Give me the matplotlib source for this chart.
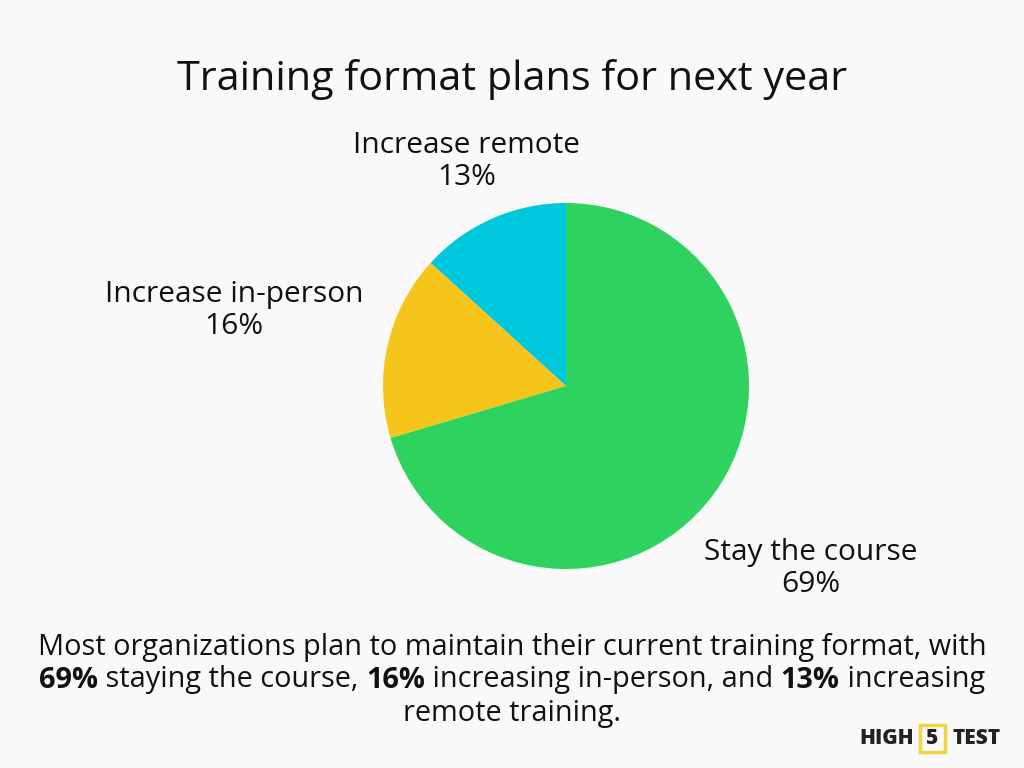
import numpy as np
import matplotlib.pyplot as plt
from matplotlib.patches import FancyBboxPatch

# data
categories = ["Increase remote", "Increase in-person", "Stay the course"]
shares = [13, 16, 69]
colors = ["#00c8dc", "#f5c51c", "#2ed35f"]
label_dist = [1.34, 1.86, 1.67]

title = "Training format plans for next year"
summary = [
    [("Most organizations plan to maintain their current training format, with", "normal")],
    [("69%", "bold"), (" staying the course, ", "normal"), ("16%", "bold"),
     (" increasing in-person, and ", "normal"), ("13%", "bold"), (" increasing", "normal")],
    [("remote training.", "normal")],
]

plt.rcParams['font.family'] = ['Open Sans', 'DejaVu Sans']
bg = "#f9f9f9"
fig = plt.figure(figsize=(10.24, 7.68), dpi=100, facecolor=bg)

fig.text(0.5, 1 - 80 / 768, title, ha="center", va="center", fontsize=29.8, color="#111111")

# pie: centre (566, 386) px, radius 183 px
cx, cy, r = 566 / 1024, 1 - 386 / 768, 183
ax = fig.add_axes([cx - r / 1024, cy - r / 768, 2 * r / 1024, 2 * r / 768])
wedges, _ = ax.pie(shares, colors=colors, startangle=90, counterclock=True,
                   wedgeprops=dict(edgecolor="none"))
ax.set_xlim(-1, 1)
ax.set_ylim(-1, 1)
ax.set_aspect("equal")
ax.axis("off")

for w, name, val, d in zip(wedges, categories, shares, label_dist):
    ang = np.deg2rad((w.theta1 + w.theta2) / 2)
    ax.text(d * np.cos(ang), d * np.sin(ang), f"{name}\n{val}%", ha="center", va="center",
            fontsize=21.5, color="#111111", linespacing=1.12)

# summary text with bold segments
fig.canvas.draw()
renderer = fig.canvas.get_renderer()
line_y = [647, 680, 713]
for segs, yp in zip(summary, line_y):
    items = []
    total = 0
    for s, wt in segs:
        t = fig.text(0, 1 - yp / 768, s, ha="left", va="center", fontsize=20.8,
                     fontweight=wt, color="#111111")
        wpx = t.get_window_extent(renderer).width
        items.append((t, wpx))
        total += wpx
    x0 = (1024 - total) / 2
    for t, wpx in items:
        t.set_x(x0 / 1024)
        x0 += wpx

# logo
ly = 1 - 739 / 768
fig.text(887 / 1024, ly, "HIGH", ha="center", va="center", fontsize=15, fontweight="heavy", color="#222222")
fig.text(932.5 / 1024, ly, "5", ha="center", va="center", fontsize=15, fontweight="heavy", color="#222222")
fig.text(977 / 1024, ly, "TEST", ha="center", va="center", fontsize=15, fontweight="heavy", color="#222222")
box = FancyBboxPatch((920 / 1024, 1 - 752 / 768), 25 / 1024, 27 / 768, boxstyle="square,pad=0",
                     transform=fig.transFigure, facecolor="none", edgecolor="#f2d443", linewidth=2.5)
fig.add_artist(box)

fig.savefig("out.png", dpi=100, facecolor=bg)
